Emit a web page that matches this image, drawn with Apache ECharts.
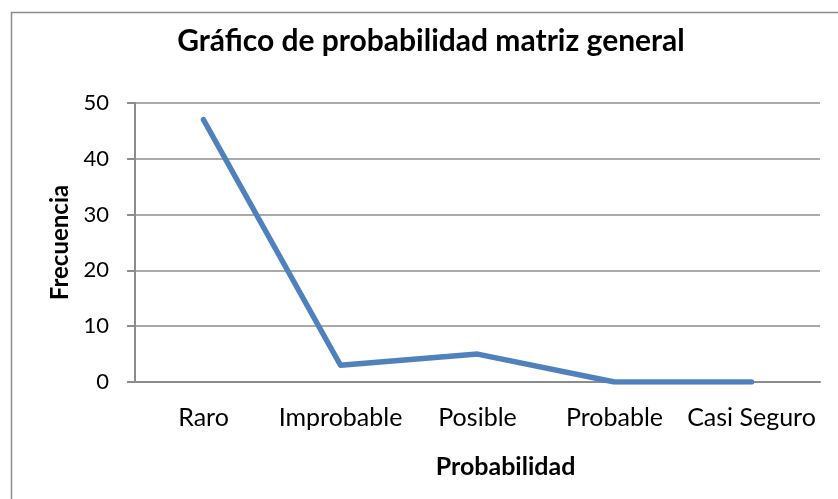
<!DOCTYPE html>
<html>
<head>
<meta charset="utf-8">
<script src="https://cdn.jsdelivr.net/npm/echarts@6/dist/echarts.min.js"></script>
<style>html,body{margin:0;padding:0;background:#fff}#c{width:838px;height:499px}</style>
</head>
<body>
<div id="c"></div>
<script>
var categories = ['Raro', 'Improbable', 'Posible', 'Probable', 'Casi Seguro'];
var frecuencia = [47, 3, 5, 0, 0];
var yTicks = { min: 0, max: 50, interval: 10 };

var chart = echarts.init(document.getElementById('c'), null, { renderer: 'canvas' });
var font = 'Lato, "Open Sans", sans-serif';
chart.setOption({
  animation: false,
  backgroundColor: '#fff',
  title: {
    text: 'Gráfico de probabilidad matriz general',
    left: 426, top: 21, textAlign: 'center',
    textStyle: { fontFamily: font, fontWeight: 'bold', fontSize: 30, color: '#000' }
  },
  graphic: [{
    type: 'rect', left: 9, top: 10, silent: true,
    shape: { width: 840, height: 500 },
    style: { fill: 'none', stroke: '#8c8c8c', lineWidth: 1.5 }
  }],
  grid: { left: 135, right: 18, top: 103, bottom: 117 },
  xAxis: {
    type: 'category', data: categories, boundaryGap: true,
    name: 'Probabilidad', nameLocation: 'middle', nameGap: 72,
    nameTextStyle: { fontFamily: font, fontWeight: 'bold', fontSize: 25, color: '#000', padding: [0, 0, 0, 56] },
    axisLine: { lineStyle: { color: '#8c8c8c', width: 2 } },
    axisTick: { show: false },
    axisLabel: { fontFamily: font, fontSize: 25, color: '#000', margin: 23, interval: 0 }
  },
  yAxis: {
    type: 'value', min: yTicks.min, max: yTicks.max, interval: yTicks.interval,
    name: 'Frecuencia', nameLocation: 'middle', nameGap: 63, nameRotate: 90,
    nameTextStyle: { fontFamily: font, fontWeight: 'bold', fontSize: 24, color: '#000' },
    axisLine: { show: true, lineStyle: { color: '#8c8c8c', width: 2 } },
    axisTick: { show: true, length: 8, lineStyle: { color: '#8c8c8c', width: 2 } },
    splitLine: { lineStyle: { color: '#8c8c8c', width: 1.5 } },
    axisLabel: { fontFamily: font, fontSize: 22, color: '#000', margin: 26 }
  },
  series: [{
    type: 'line', data: frecuencia, showSymbol: false, symbol: 'none',
    lineStyle: { color: '#4F81BD', width: 5.5, cap: 'round', join: 'round' }
  }]
});
</script>
</body>
</html>
